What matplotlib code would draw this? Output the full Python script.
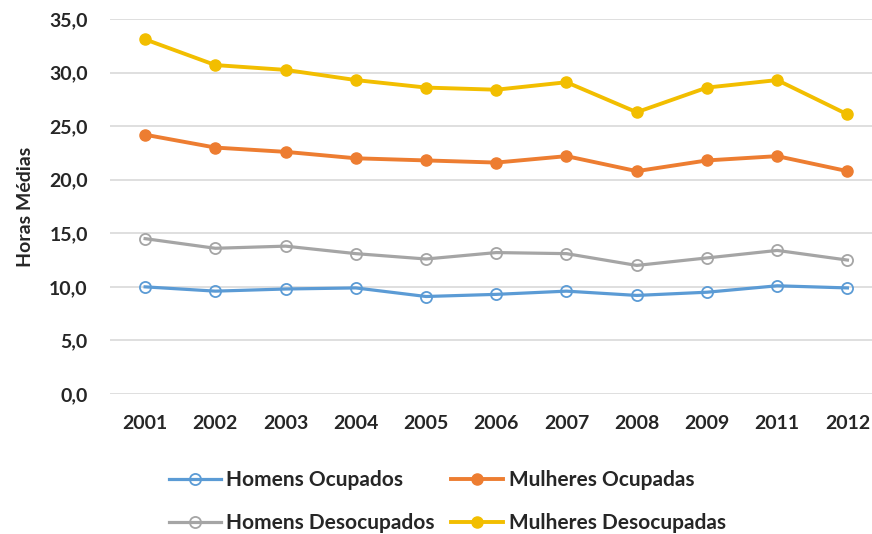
import numpy as np
import matplotlib
matplotlib.use("Agg")
import matplotlib.pyplot as plt

plt.rcParams['font.family'] = ['Lato', 'DejaVu Sans']
plt.rcParams['font.weight'] = 'bold'

years = ['2001', '2002', '2003', '2004', '2005', '2006', '2007', '2008', '2009', '2011', '2012']
homens_ocupados = [10.0, 9.6, 9.8, 9.9, 9.1, 9.3, 9.6, 9.2, 9.5, 10.1, 9.9]
mulheres_ocupadas = [24.2, 23.0, 22.6, 22.0, 21.8, 21.6, 22.2, 20.8, 21.8, 22.2, 20.8]
homens_desocupados = [14.5, 13.6, 13.8, 13.1, 12.6, 13.2, 13.1, 12.0, 12.7, 13.4, 12.5]
mulheres_desocupadas = [33.1, 30.7, 30.25, 29.3, 28.6, 28.4, 29.1, 26.3, 28.6, 29.3, 26.1]

fig = plt.figure(figsize=(8.72, 5.34), dpi=100)
ax = fig.add_axes([110/872, 140/534, 1 - 110/872, (394 - 19)/534])

x = np.arange(len(years))
ax.plot(x, homens_ocupados, color='#5B9BD5', lw=2.3, marker='o', ms=8,
        mfc='none', mew=1.3, label='Homens Ocupados')
ax.plot(x, homens_desocupados, color='#A5A5A5', lw=2.3, marker='o', ms=8,
        mfc='none', mew=1.3, label='Homens Desocupados')
ax.plot(x, mulheres_ocupadas, color='#ED7D31', lw=2.8, marker='o', ms=8,
        label='Mulheres Ocupadas')
ax.plot(x, mulheres_desocupadas, color='#F2BE00', lw=2.8, marker='o', ms=8,
        label='Mulheres Desocupadas')

ax.set_ylim(0, 35)
ax.set_xlim(-0.5, 10.35)
ax.set_yticks(np.arange(0, 36, 5))
ax.set_yticklabels([f"{v:.1f}".replace('.', ',') for v in np.arange(0, 36, 5)])
ax.set_xticks(x)
ax.set_xticklabels(years)
ax.grid(axis='y', color='#D9D9D9', lw=1.2)
ax.set_axisbelow(True)
for s in ax.spines.values():
    s.set_visible(False)
ax.tick_params(axis='y', length=0, labelsize=14, colors='#262626', pad=16)
ax.tick_params(axis='x', length=0, labelsize=14, colors='#262626', pad=15)
ax.set_ylabel('Horas Médias', fontsize=14, fontweight='bold', color='#262626')
ax.yaxis.set_label_coords(-0.10, 0.5)

fig.legend(loc='lower left', bbox_to_anchor=(150/872, -0.033), ncol=2, frameon=False,
           fontsize=15, handlelength=2.5, columnspacing=0.8, handletextpad=0.25,
           labelspacing=1.1, labelcolor='#262626')

fig.savefig('out.png', dpi=100)
